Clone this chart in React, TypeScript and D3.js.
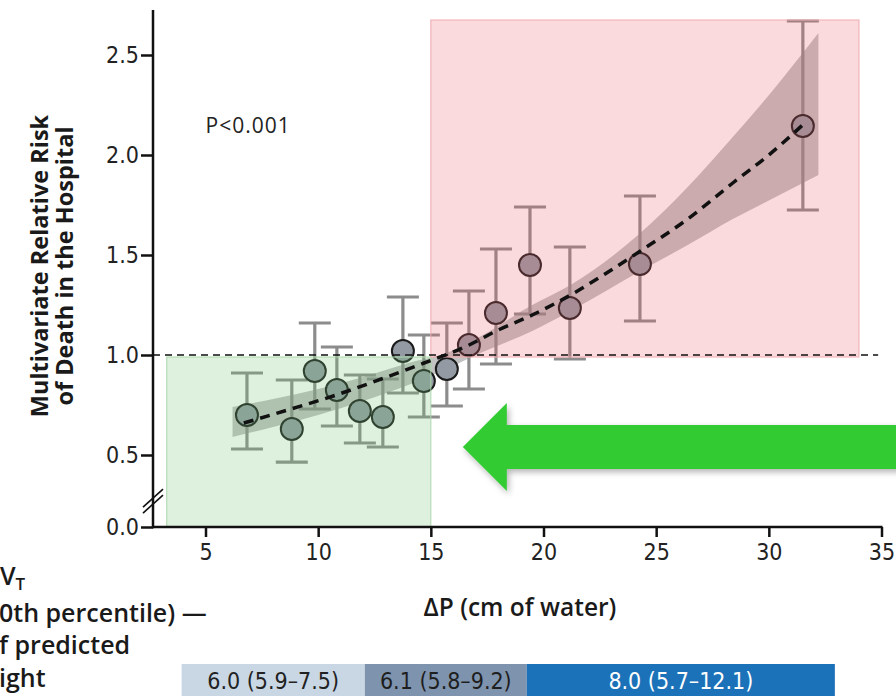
import React, { useEffect, useRef } from 'react';
import * as d3 from 'd3';

// binned estimates (driving pressure vs relative risk)
const deltaP = [6.84, 8.83, 9.85, 10.83, 11.85, 12.87, 13.76, 14.69, 15.71, 16.69, 17.89, 19.4, 21.17, 24.28, 31.51];
const relRisk = [0.7, 0.63, 0.92, 0.825, 0.72, 0.69, 1.02, 0.87, 0.93, 1.05, 1.21, 1.45, 1.235, 1.455, 2.145];
const ciLow = [0.53, 0.45, 0.73, 0.645, 0.56, 0.54, 0.81, 0.69, 0.745, 0.83, 0.955, 1.205, 0.98, 1.17, 1.725];
const ciHigh = [0.91, 0.875, 1.16, 1.04, 0.9, 0.88, 1.29, 1.1, 1.16, 1.32, 1.53, 1.74, 1.54, 1.795, 2.67];

// fitted curve (dashed) and its confidence band
const fitX = [6.7, 8.8, 10.8, 12.8, 14.7, 16.7, 17.9, 19.5, 21.2, 22.8, 24.3, 26.4, 28.4, 30.0, 31.5];
const fitY = [0.66, 0.73, 0.8, 0.88, 0.96, 1.05, 1.12, 1.2, 1.3, 1.41, 1.52, 1.68, 1.86, 2.0, 2.15];
const bandX = [6.2, 8.0, 10.0, 12.0, 14.0, 15.7, 17.0, 19.5, 21.2, 24.3, 26.4, 28.4, 30.3, 32.2];
const bandLow = [0.59, 0.64, 0.7, 0.77, 0.85, 0.93, 1.0, 1.12, 1.22, 1.42, 1.55, 1.68, 1.79, 1.9];
const bandHigh = [0.74, 0.78, 0.83, 0.89, 0.96, 1.01, 1.08, 1.25, 1.35, 1.61, 1.84, 2.09, 2.34, 2.61];

const xTicks = [5, 10, 15, 20, 25, 30, 35];
const yTicks = [0, 0.5, 1.0, 1.5, 2.0, 2.5];

// shaded zones
const lowZoneX = [3.28, 15];
const highZoneX = [15, 34.0];
const zoneSplit = 0.99;
const highZoneTop = 2.675;

// V_T strip under the axis
const vtLabels = ['6.0 (5.9–7.5)', '6.1 (5.8–9.2)', '8.0 (5.7–12.1)'];
const vtEdges = [3.94, 12.07, 19.26, 32.93];
const vtColors = ['#c9d6e4', '#7e93ad', '#1c72b8'];
const vtText = ['#222', '#1e1e1e', '#ffffff'];

// side caption, as far as it shows inside the crop
const sideLines = ['0th percentile) —', 'f predicted', 'ight'];

const W = 896;
const H = 698;
const narrow = "'Liberation Sans Narrow', 'DejaVu Sans Condensed', 'Liberation Sans', sans-serif";
const label = "'Open Sans', Lato, 'Liberation Sans', sans-serif";

export default function App() {
  const ref = useRef<SVGSVGElement | null>(null);

  useEffect(() => {
    if (!ref.current) return;
    const svg = d3.select(ref.current);
    svg.selectAll('*').remove();

    const x = d3.scaleLinear().domain([5, 35]).range([205.5, 881.5]);
    // broken axis: 0 sits below a gap, 0.5..2.5 is linear
    const y = d3.scaleLinear().domain([0, 0.5, 2.5]).range([527, 455, 55]);
    const axisX = 153;

    const defs = svg.append('defs');
    const f = defs.append('filter').attr('id', 'shadow').attr('x', '-10%').attr('y', '-30%').attr('width', '130%').attr('height', '170%');
    f.append('feDropShadow').attr('dx', 2).attr('dy', 3).attr('stdDeviation', 3).attr('flood-color', '#000').attr('flood-opacity', 0.3);

    // confidence band
    const area = d3.area<number>()
      .x((d, i) => x(bandX[i]))
      .y0((d, i) => y(bandLow[i]))
      .y1((d, i) => y(bandHigh[i]))
      .curve(d3.curveMonotoneX);
    svg.append('path').attr('d', area(bandX)).attr('fill', '#c2c2c2');

    // error bars
    const bars = svg.append('g').attr('stroke', '#8c8c8c').attr('stroke-width', 3.2);
    deltaP.forEach((d, i) => {
      const cx = x(d);
      bars.append('line').attr('x1', cx).attr('x2', cx).attr('y1', y(ciLow[i])).attr('y2', y(ciHigh[i]));
      bars.append('line').attr('x1', cx - 16).attr('x2', cx + 16).attr('y1', y(ciLow[i])).attr('y2', y(ciLow[i]));
      bars.append('line').attr('x1', cx - 16).attr('x2', cx + 16).attr('y1', y(ciHigh[i])).attr('y2', y(ciHigh[i]));
    });

    // points
    svg.append('g').selectAll('circle')
      .data(deltaP)
      .enter()
      .append('circle')
      .attr('cx', d => x(d))
      .attr('cy', (d, i) => y(relRisk[i]))
      .attr('r', 11)
      .attr('fill', '#939aa3')
      .attr('stroke', '#1b1b1b')
      .attr('stroke-width', 2);

    // tinted zones on top
    svg.append('rect')
      .attr('x', x(lowZoneX[0])).attr('width', x(lowZoneX[1]) - x(lowZoneX[0]))
      .attr('y', y(zoneSplit)).attr('height', y(0) - y(zoneSplit))
      .attr('fill', 'rgb(115,195,115)').attr('fill-opacity', 0.24)
      .attr('stroke', 'rgb(170,215,170)').attr('stroke-width', 1);
    svg.append('rect')
      .attr('x', x(highZoneX[0])).attr('width', x(highZoneX[1]) - x(highZoneX[0]))
      .attr('y', y(highZoneTop)).attr('height', y(zoneSplit) - y(highZoneTop))
      .attr('fill', 'rgb(235,95,105)').attr('fill-opacity', 0.23)
      .attr('stroke', 'rgb(240,170,175)').attr('stroke-width', 1);

    // reference line at RR = 1
    svg.append('line')
      .attr('x1', axisX).attr('x2', x(34.85))
      .attr('y1', y(1)).attr('y2', y(1))
      .attr('stroke', '#111').attr('stroke-width', 1.3).attr('stroke-dasharray', '7 5');

    // fitted curve
    const line = d3.line<number>()
      .x((d, i) => x(fitX[i]))
      .y((d, i) => y(fitY[i]))
      .curve(d3.curveMonotoneX);
    svg.append('path').attr('d', line(fitX))
      .attr('fill', 'none').attr('stroke', '#111').attr('stroke-width', 3.5).attr('stroke-dasharray', '10 7');

    // axes
    const xAxis = svg.append('g').attr('transform', `translate(0,${y(0)})`)
      .call(d3.axisBottom(x).tickValues(xTicks).tickSize(10).tickPadding(7));
    const yAxis = svg.append('g').attr('transform', `translate(${axisX},0)`)
      .call(d3.axisLeft(y).tickValues(yTicks).tickFormat(d3.format('.1f')).tickSize(12).tickPadding(2));
    [xAxis, yAxis].forEach(g => {
      g.select('.domain').remove();
      g.selectAll('line').attr('stroke', '#111').attr('stroke-width', 2.5);
      g.selectAll('text').attr('fill', '#222').style('font-family', narrow).style('font-size', '23px');
    });
    svg.append('line').attr('x1', axisX).attr('x2', x(35) + 1).attr('y1', y(0)).attr('y2', y(0))
      .attr('stroke', '#111').attr('stroke-width', 2.5);
    svg.append('line').attr('x1', axisX).attr('x2', axisX).attr('y1', y(0) + 1.25).attr('y2', y(2.725))
      .attr('stroke', '#111').attr('stroke-width', 2.5);

    // axis break marks
    const by = y(0.18);
    [-3, 3].forEach(o => {
      svg.append('line')
        .attr('x1', axisX - 10).attr('y1', by + o + 9)
        .attr('x2', axisX + 10).attr('y2', by + o - 9)
        .attr('stroke', '#111').attr('stroke-width', 1.6);
    });

    svg.append('text').attr('x', x(5)).attr('y', y(2.11))
      .style('font-family', label).style('font-size', '21px').style('letter-spacing', '1px').attr('fill', '#222')
      .text('P<0.001');

    // y title
    const yt = svg.append('text').attr('transform', 'translate(48,266) rotate(-90)')
      .attr('text-anchor', 'middle').style('font-family', label).style('font-size', '23.5px')
      .style('font-weight', 700).attr('fill', '#1a1a1a');
    yt.append('tspan').attr('x', 0).attr('y', 0).text('Multivariate Relative Risk');
    yt.append('tspan').attr('x', 0).attr('y', 25).text('of Death in the Hospital');

    // x title
    svg.append('text').attr('x', 520).attr('y', 616).attr('text-anchor', 'middle')
      .style('font-family', label).style('font-size', '24.5px').style('font-weight', 600).attr('fill', '#1a1a1a')
      .text('ΔP (cm of water)');

    // V_T caption, cut by the left edge in the reference
    const side = svg.append('g').style('font-family', label).style('font-size', '25px')
      .style('font-weight', 600).attr('fill', '#1a1a1a');
    const vt = side.append('text').attr('x', 0).attr('y', 585);
    vt.append('tspan').text('V');
    vt.append('tspan').attr('dy', 5).style('font-size', '17px').text('T');
    sideLines.forEach((t, i) => {
      side.append('text').attr('x', -1).attr('y', [622, 654, 687][i]).text(t);
    });

    // V_T strip
    const strip = svg.append('g');
    vtLabels.forEach((t, i) => {
      strip.append('rect')
        .attr('x', x(vtEdges[i])).attr('width', x(vtEdges[i + 1]) - x(vtEdges[i]))
        .attr('y', 664).attr('height', 32)
        .attr('fill', vtColors[i]);
      strip.append('text')
        .attr('x', (x(vtEdges[i]) + x(vtEdges[i + 1])) / 2).attr('y', 689)
        .attr('text-anchor', 'middle').style('font-family', narrow).style('font-size', '23px')
        .attr('fill', vtText[i]).text(t);
    });

    // green arrow pointing at the low-pressure zone
    const tx = x(16.42);
    const ty = y(0.54);
    const arrow = d3.path();
    arrow.moveTo(tx, ty);
    arrow.lineTo(tx + 44, ty - 44);
    arrow.lineTo(tx + 44, ty - 22);
    arrow.lineTo(W + 10, ty - 22);
    arrow.lineTo(W + 10, ty + 22);
    arrow.lineTo(tx + 44, ty + 22);
    arrow.lineTo(tx + 44, ty + 44);
    arrow.closePath();
    svg.append('path').attr('d', arrow.toString()).attr('fill', '#33cc33').attr('filter', 'url(#shadow)');
  }, []);

  return (
    <div style={{ position: 'absolute', left: 0, top: 0, width: W, height: H, background: '#fff' }}>
      <svg ref={ref} width={W} height={H} style={{ display: 'block' }} />
    </div>
  );
}
